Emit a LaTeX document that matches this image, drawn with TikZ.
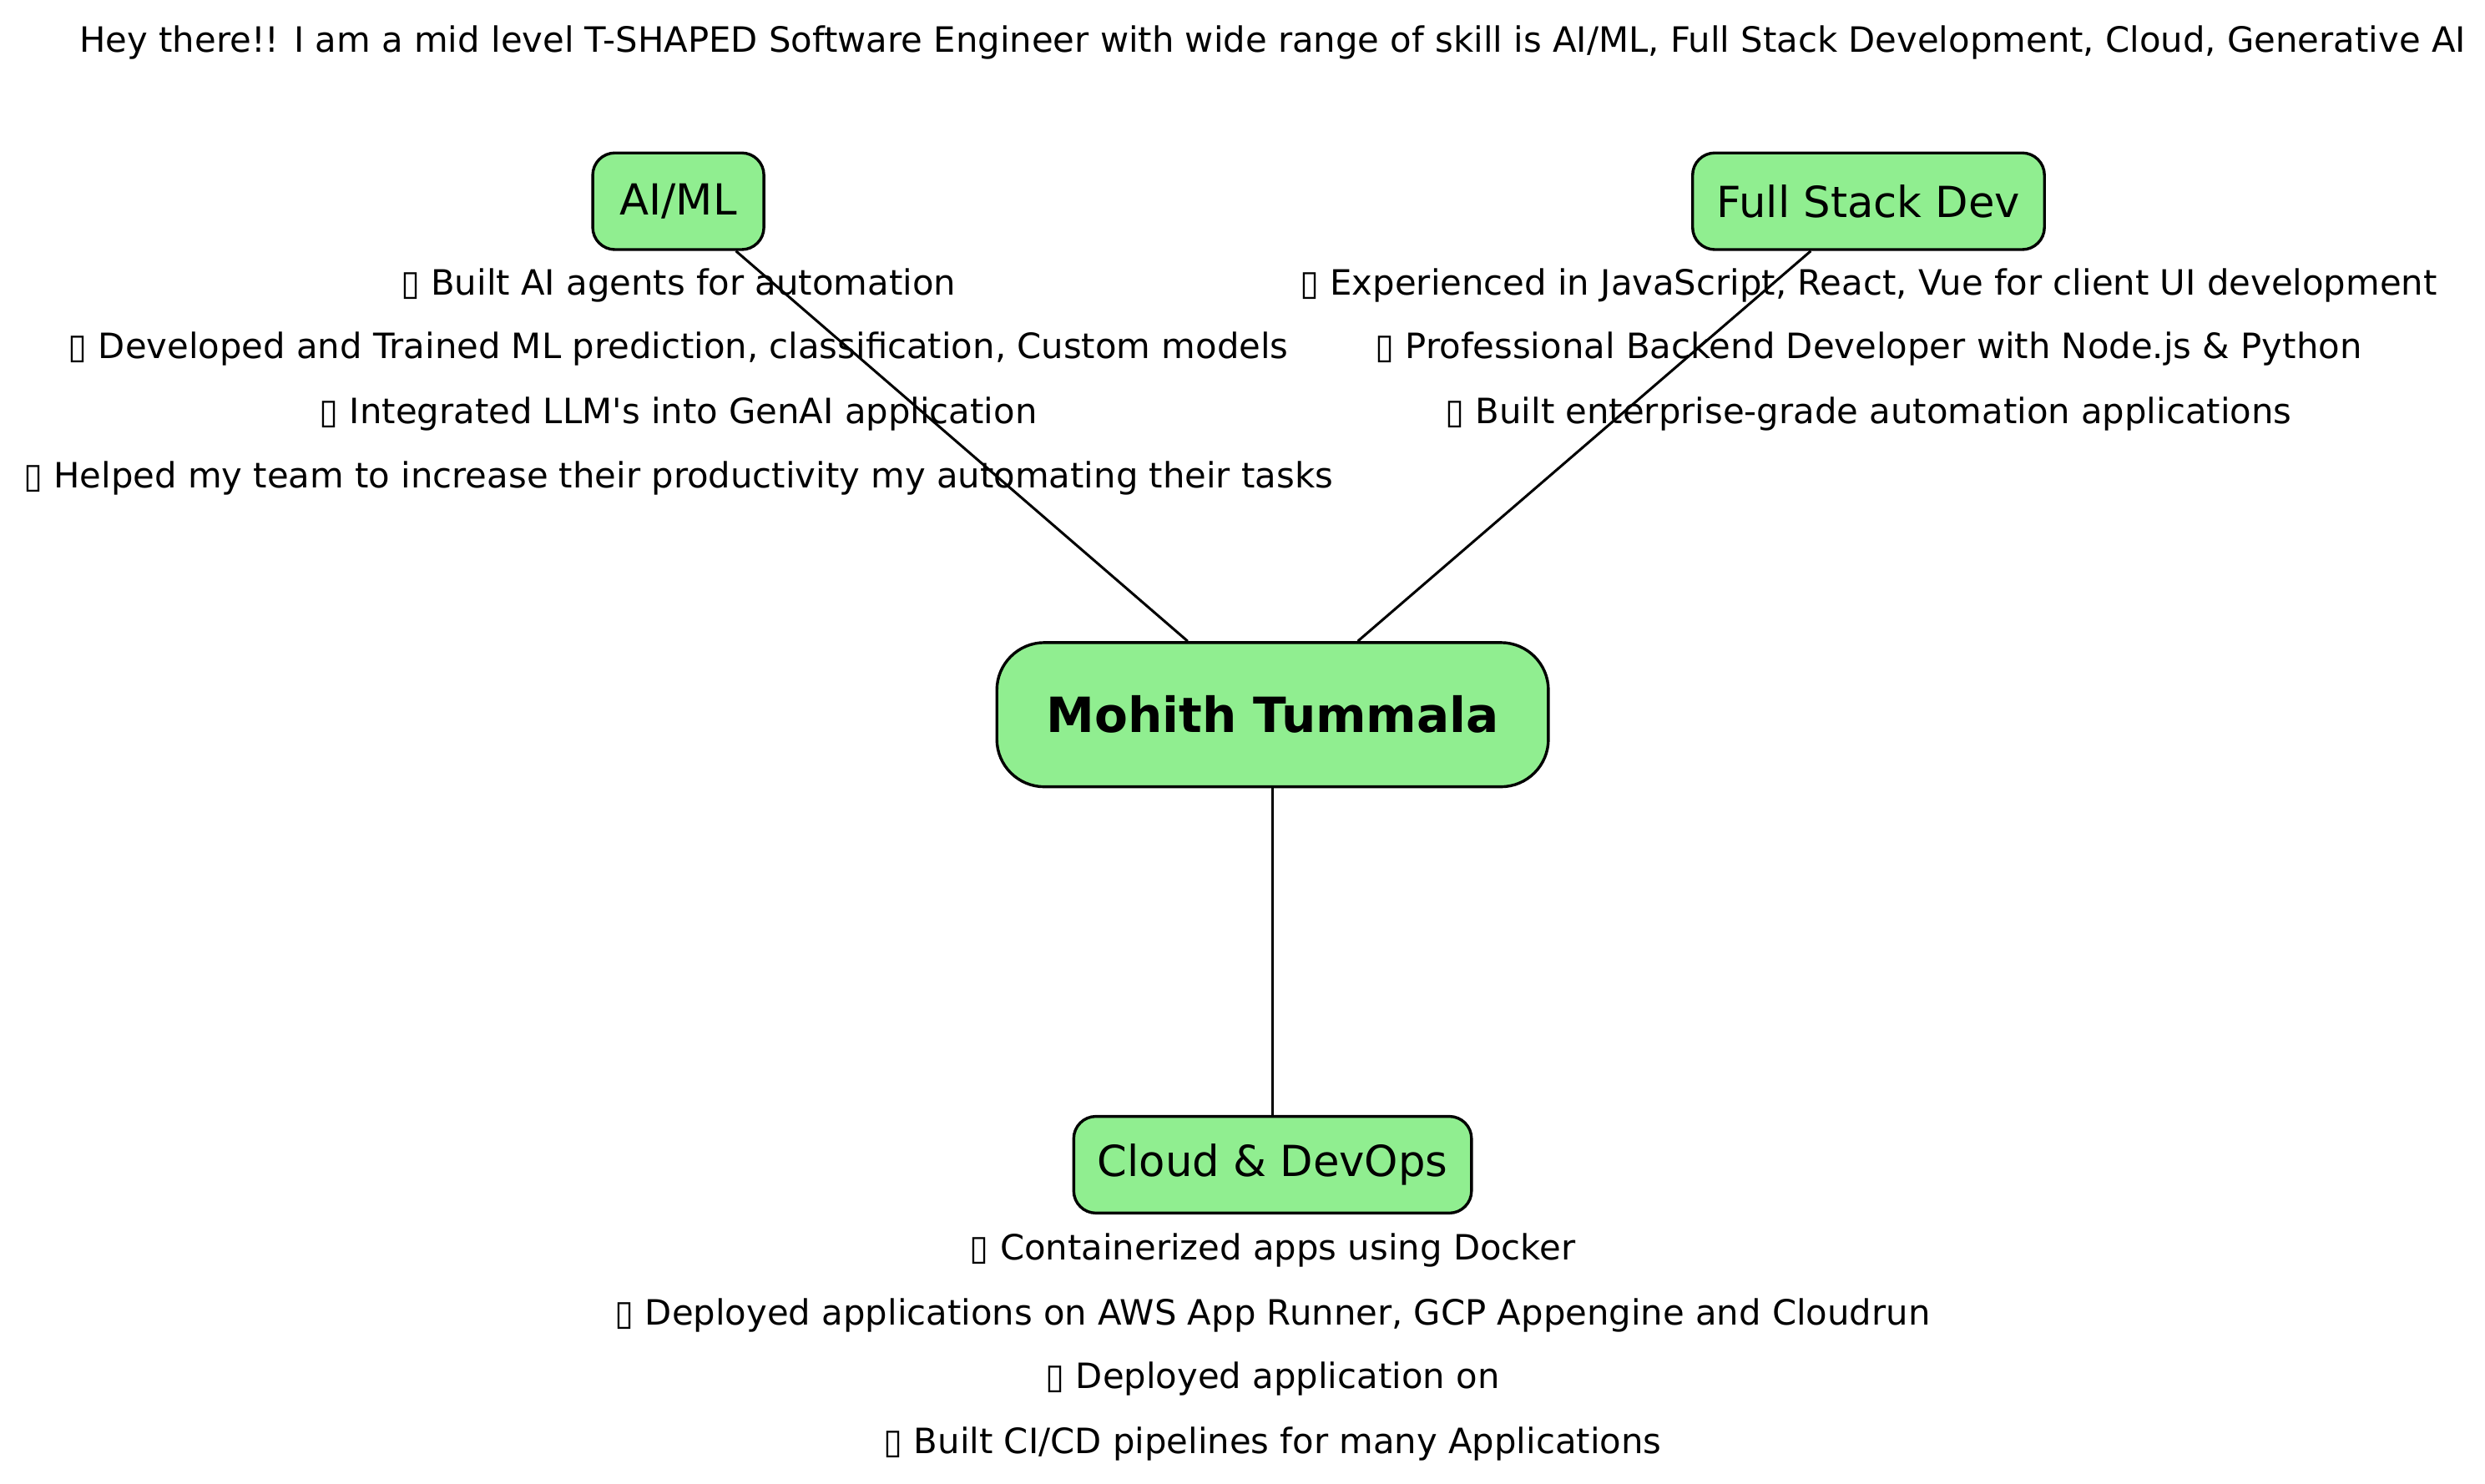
\documentclass[tikz,border=0pt]{standalone}
\usepackage{fontspec}
\setmainfont{DejaVu Sans}
\usetikzlibrary{positioning}
\usepackage{xcolor}
\definecolor{lightgreen}{RGB}{144,238,144}

\begin{document}
\begin{tikzpicture}[x=1pt, y=-1pt,
    skillbox/.style={draw, line width=1.8pt, rounded corners=14pt, fill=lightgreen, minimum height=61pt, inner sep=0pt, font=\fontsize{27}{32}\selectfont},
    skillitem/.style={inner sep=0pt, font=\fontsize{22}{26}\selectfont},
    link/.style={line width=1.6pt}]
    \useasboundingbox (0,0) rectangle (1568,936);
    % Heading
    \node[skillitem] (intro) at (803,27) {Hey there!! I am a mid level T-SHAPED Software Engineer with wide range of skill is AI/ML, Full Stack Development, Cloud, Generative AI};
    % Centre and branches
    \node[skillbox, rounded corners=30pt, minimum width=348pt, minimum height=91pt, font=\fontsize{30.6}{36}\selectfont\bfseries] (mohith) at (803,451) {Mohith Tummala};
    \node[skillbox, minimum width=108pt] (aiml) at (428,127) {AI/ML};
    \node[skillbox, minimum width=222pt] (fullstack) at (1179,127) {Full Stack Dev};
    \node[skillbox, minimum width=251pt] (cloud) at (803,735) {Cloud \& DevOps};
    \draw[link] (aiml) -- (mohith);
    \draw[link] (fullstack) -- (mohith);
    \draw[link] (mohith) -- (cloud);
    % AI/ML items
    \node[skillitem] (aiml1) at (428,180) {▯ Built AI agents for automation};
    \node[skillitem] (aiml2) at (428,220) {▯ Developed and Trained ML prediction, classification, Custom models};
    \node[skillitem] (aiml3) at (428,261) {▯ Integrated LLM\textquotesingle s into GenAI application};
    \node[skillitem] (aiml4) at (428,302) {▯ Helped my team to increase their productivity my automating their tasks};
    % Full stack items
    \node[skillitem] (fullstack1) at (1179,180) {▯ Experienced in JavaScript, React, Vue for client UI development};
    \node[skillitem] (fullstack2) at (1179,220) {▯ Professional Backend Developer with Node.js \& Python};
    \node[skillitem] (fullstack3) at (1179,261) {▯ Built enterprise-grade automation applications};
    % Cloud items
    \node[skillitem] (cloud1) at (803,789) {▯ Containerized apps using Docker};
    \node[skillitem] (cloud2) at (803,830) {▯ Deployed applications on AWS App Runner, GCP Appengine and Cloudrun};
    \node[skillitem] (cloud3) at (803,870) {▯ Deployed application on};
    \node[skillitem] (cloud4) at (803,911) {▯ Built CI/CD pipelines for many Applications};
\end{tikzpicture}
\end{document}
